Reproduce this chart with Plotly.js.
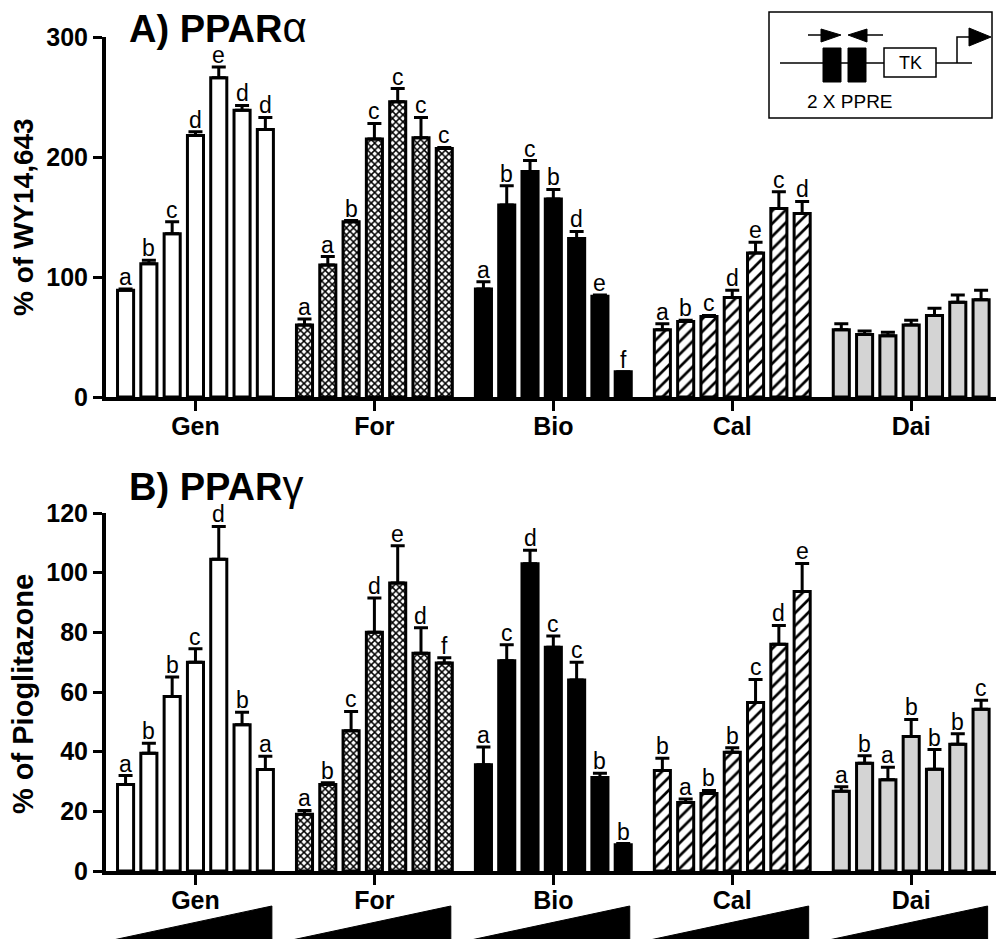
<!DOCTYPE html>
<html>
<head>
<meta charset="utf-8">
<script src="https://cdn.plot.ly/plotly-3.0.1.min.js"></script>
<style>html,body{margin:0;padding:0;background:#fff;}#chart{width:996px;height:939px;}</style>
</head>
<body>
<div id="chart"></div>
<script>
// ---------------- DATA ----------------
const groups = ["Gen", "For", "Bio", "Cal", "Dai"];

// Panel A: PPARalpha (% of WY14,643)
const alphaGen = [89, 111, 136, 218, 266, 239, 223];
const alphaGenErr = [1, 3, 10, 3, 9, 4, 10];
const alphaGenLet = ["a", "b", "c", "d", "e", "d", "d"];
const alphaFor = [60, 110, 146, 215, 246, 216, 207];
const alphaForErr = [5, 7, 1, 13, 11, 17, 1];
const alphaForLet = ["a", "a", "b", "c", "c", "c", "c"];
const alphaBio = [90, 160, 188, 165, 132, 84, 21];
const alphaBioErr = [6, 16, 9, 8, 6, 1, 0];
const alphaBioLet = ["a", "b", "c", "b", "d", "e", "f"];
const alphaCal = [56, 63, 67, 83, 120, 157, 153];
const alphaCalErr = [5, 1, 1, 6, 9, 14, 10];
const alphaCalLet = ["a", "b", "c", "d", "e", "c", "d"];
const alphaDai = [56, 52, 51, 60, 68, 79, 81];
const alphaDaiErr = [5, 3, 3, 4, 6, 6, 8];
const alphaDaiLet = ["", "", "", "", "", "", ""];

// Panel B: PPARgamma (% of Pioglitazone)
const gammaGen = [29, 39.5, 58.5, 70, 104.5, 49, 34];
const gammaGenErr = [3, 3.3, 6.5, 4.5, 11, 4.2, 4.5];
const gammaGenLet = ["a", "b", "b", "c", "d", "b", "a"];
const gammaFor = [19, 29, 47, 80, 96.5, 73, 69.7];
const gammaForErr = [1.3, 0.6, 6.5, 11.5, 12.5, 8.5, 1.8];
const gammaForLet = ["a", "b", "c", "d", "e", "d", "f"];
const gammaBio = [35.6, 70.5, 103, 75, 64, 31.3, 8.8];
const gammaBioErr = [6, 5.3, 4.5, 3.8, 6, 1.5, 0.4];
const gammaBioLet = ["a", "c", "d", "c", "c", "b", "b"];
const gammaCal = [33.7, 23, 26, 39.8, 56.5, 76, 93.7];
const gammaCalErr = [4.1, 1.1, 1, 1.5, 7.7, 6.3, 9.4];
const gammaCalLet = ["b", "a", "b", "b", "c", "d", "e"];
const gammaDai = [26.7, 36.1, 30.6, 45.1, 34.1, 42.5, 54.2];
const gammaDaiErr = [1.5, 2.5, 4.2, 5.7, 6.6, 3.5, 3];
const gammaDaiLet = ["a", "b", "a", "b", "b", "b", "c"];

const alphaTicks = [0, 100, 200, 300];
const gammaTicks = [0, 20, 40, 60, 80, 100, 120];

// ---------------- STYLE / LAYOUT ----------------
const W = 996, H = 939;
const ML = 106;
const FONT = "Liberation Sans, Arial, Helvetica, sans-serif";
const STEP = 7.68;          // group spacing in bar units
const BARW = 0.69;
const px = v => (v - ML) / (W - ML);   // paper x is relative to plot area
const py = v => 1 - v / H;

const styles = [
  {color: "white"},
  {color: "white", pattern: {shape: "x", fgcolor: "black", bgcolor: "white", size: 5, solidity: 0.5}},
  {color: "black"},
  {color: "white", pattern: {shape: "/", fgcolor: "black", bgcolor: "white", size: 9, solidity: 0.3}},
  {color: "#d4d4d4"}
];

const alphaSets = [
  [alphaGen, alphaGenErr, alphaGenLet], [alphaFor, alphaForErr, alphaForLet],
  [alphaBio, alphaBioErr, alphaBioLet], [alphaCal, alphaCalErr, alphaCalLet],
  [alphaDai, alphaDaiErr, alphaDaiLet]
];
const gammaSets = [
  [gammaGen, gammaGenErr, gammaGenLet], [gammaFor, gammaForErr, gammaForLet],
  [gammaBio, gammaBioErr, gammaBioLet], [gammaCal, gammaCalErr, gammaCalLet],
  [gammaDai, gammaDaiErr, gammaDaiLet]
];

const traces = [];
const annotations = [];

function addPanel(sets, xa, ya) {
  sets.forEach((s, g) => {
    const [vals, errs, lets] = s;
    const xs = vals.map((_, j) => g * STEP + j);
    const st = styles[g];
    const marker = {color: st.color, line: {color: "black", width: 3}};
    if (st.pattern) marker.pattern = st.pattern;
    traces.push({
      type: "bar", x: xs, y: vals, xaxis: xa, yaxis: ya, width: BARW,
      marker: marker, showlegend: false, hoverinfo: "skip",
      error_y: {type: "data", symmetric: false, array: errs, arrayminus: errs.map(() => 0),
                color: "black", thickness: 3, width: 7}
    });
    lets.forEach((l, j) => {
      if (!l) return;
      annotations.push({
        x: xs[j], y: vals[j] + errs[j], xref: xa, yref: ya, text: l, showarrow: false,
        yanchor: "bottom", xanchor: "center", yshift: -2, borderpad: 0,
        font: {family: FONT, size: 23, color: "black"}
      });
    });
  });
}
addPanel(alphaSets, "x", "y");
addPanel(gammaSets, "x2", "y2");

const tickvals = groups.map((_, g) => g * STEP + 3);

function xAxis(anchor) {
  return {
    domain: [0, 1], range: [-0.84, 37.36], anchor: anchor,
    showline: true, linewidth: 4, linecolor: "black",
    ticks: "outside", ticklen: 10, tickwidth: 3, tickcolor: "black",
    tickvals: tickvals, ticktext: groups, ticklabelstandoff: -6,
    tickfont: {family: FONT, size: 25, weight: "bold", color: "black"},
    showgrid: false, zeroline: false, fixedrange: true
  };
}
function yAxis(anchor, domain, range, ticks) {
  return {
    domain: domain, range: range, anchor: anchor,
    showline: true, linewidth: 4, linecolor: "black",
    ticks: "outside", ticklen: 9, tickwidth: 3, tickcolor: "black",
    tickvals: ticks, ticktext: ticks.map(String),
    tickfont: {family: FONT, size: 25, weight: "bold", color: "black"},
    showgrid: false, zeroline: false, fixedrange: true
  };
}

// Panel titles and axis titles
annotations.push({
  xref: "paper", yref: "paper", x: px(128), y: py(27), xanchor: "left", yanchor: "middle",
  borderpad: 0,
  text: "<b>A) PPAR</b><span style='font-size:42px'>α</span>", showarrow: false,
  font: {family: FONT, size: 38, color: "black"}
});
annotations.push({
  xref: "paper", yref: "paper", x: px(128), y: py(485), xanchor: "left", yanchor: "middle",
  borderpad: 0,
  text: "<b>B) PPAR</b><span style='font-size:42px'>γ</span>", showarrow: false,
  font: {family: FONT, size: 38, color: "black"}
});
annotations.push({
  xref: "paper", yref: "paper", x: px(23), y: py(217), xanchor: "center", yanchor: "middle",
  textangle: -90, text: "<b>% of WY14,643</b>", showarrow: false,
  font: {family: FONT, size: 28, color: "black"}
});
annotations.push({
  xref: "paper", yref: "paper", x: px(23), y: py(694), xanchor: "center", yanchor: "middle",
  textangle: -90, text: "<b>% of Pioglitazone</b>", showarrow: false,
  font: {family: FONT, size: 29, color: "black"}
});
// Inset texts
annotations.push({
  xref: "paper", yref: "paper", x: px(910), y: py(63), xanchor: "center", yanchor: "middle",
  text: "TK", showarrow: false, font: {family: FONT, size: 18, color: "black"}
});
annotations.push({
  xref: "paper", yref: "paper", x: px(850), y: py(102), xanchor: "center", yanchor: "middle",
  text: "2 X PPRE", showarrow: false, font: {family: FONT, size: 19, color: "black"}
});

// Shapes: inset schematic and dose wedges
const shapes = [];
const ln = {color: "black", width: 1.5};
shapes.push({type: "rect", xref: "paper", yref: "paper", x0: px(769), y0: py(12), x1: px(992), y1: py(118), line: ln, fillcolor: "white", layer: "above"});
shapes.push({type: "line", xref: "paper", yref: "paper", x0: px(780), y0: py(63), x1: px(972), y1: py(63), line: ln, layer: "above"});
shapes.push({type: "rect", xref: "paper", yref: "paper", x0: px(823), y0: py(48), x1: px(841), y1: py(82), line: {color: "black", width: 1}, fillcolor: "black", layer: "above"});
shapes.push({type: "rect", xref: "paper", yref: "paper", x0: px(848), y0: py(48), x1: px(866), y1: py(82), line: {color: "black", width: 1}, fillcolor: "black", layer: "above"});
shapes.push({type: "rect", xref: "paper", yref: "paper", x0: px(884), y0: py(48), x1: px(936), y1: py(77), line: ln, fillcolor: "white", layer: "above"});
function ppath(pts, close) {
  return pts.map((p, i) => (i ? "L" : "M") + px(p[0]) + "," + py(p[1])).join(" ") + (close ? " Z" : "");
}
shapes.push({type: "path", xref: "paper", yref: "paper", path: ppath([[808, 35], [824, 35]], false), line: ln, layer: "above"});
shapes.push({type: "path", xref: "paper", yref: "paper", path: ppath([[821, 29], [841, 35], [821, 42]], true), line: {color: "black", width: 1}, fillcolor: "black", layer: "above"});
shapes.push({type: "path", xref: "paper", yref: "paper", path: ppath([[864, 35], [883, 35]], false), line: ln, layer: "above"});
shapes.push({type: "path", xref: "paper", yref: "paper", path: ppath([[848, 35], [867, 29], [867, 42]], true), line: {color: "black", width: 1}, fillcolor: "black", layer: "above"});
shapes.push({type: "path", xref: "paper", yref: "paper", path: ppath([[957, 63], [957, 37], [971, 37]], false), line: ln, layer: "above"});
shapes.push({type: "path", xref: "paper", yref: "paper", path: ppath([[969, 28], [991, 37], [969, 46]], true), line: {color: "black", width: 1}, fillcolor: "black", layer: "above"});

// dose wedges under lower panel
groups.forEach((_, g) => {
  const L = g * STEP - 0.54, R = g * STEP + 6.28;
  shapes.push({
    type: "path", xref: "x2", yref: "paper",
    path: "M" + L + "," + py(940) + " L" + R + "," + py(906) + " L" + R + "," + py(940) + " Z",
    line: {color: "black", width: 1}, fillcolor: "black"
  });
});

const layout = {
  width: W, height: H,
  margin: {l: ML, r: 0, t: 0, b: 0, pad: 0},
  paper_bgcolor: "white", plot_bgcolor: "white",
  barmode: "overlay", bargap: 0,
  font: {family: FONT, color: "black"},
  showlegend: false,
  xaxis: xAxis("y"),
  xaxis2: xAxis("y2"),
  yaxis: yAxis("x", [1 - 397 / H, 1 - 37 / H], [0, 300], alphaTicks),
  yaxis2: yAxis("x2", [1 - 871 / H, 1 - 513 / H], [0, 120], gammaTicks),
  annotations: annotations,
  shapes: shapes
};

Plotly.newPlot("chart", traces, layout, {staticPlot: true, displayModeBar: false});
</script>
</body>
</html>
